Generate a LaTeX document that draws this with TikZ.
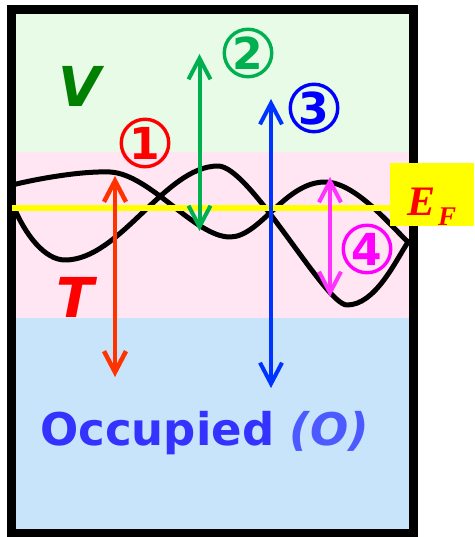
\documentclass[tikz,border=0pt]{standalone}
\usepackage{fontspec}
\setmainfont{DejaVu Sans}
\newfontfamily\tnr{Liberation Serif}
\usetikzlibrary{arrows.meta}
\definecolor{vfill}{RGB}{232,251,230}
\definecolor{tfill}{RGB}{255,230,242}
\definecolor{ofill}{RGB}{200,228,250}
\definecolor{aRed}{RGB}{255,51,0}
\definecolor{aGreen}{RGB}{0,176,80}
\definecolor{aBlue}{RGB}{0,51,255}
\definecolor{aMag}{RGB}{255,51,255}
\definecolor{lRed}{RGB}{255,0,0}
\definecolor{lGreen}{RGB}{0,176,80}
\definecolor{lBlue}{RGB}{0,0,255}
\definecolor{lMag}{RGB}{255,0,255}
\definecolor{vGreen}{RGB}{0,128,0}
\definecolor{occ}{RGB}{51,51,255}
\definecolor{occO}{RGB}{77,90,255}
\definecolor{efyel}{RGB}{255,255,0}
\begin{document}
\begin{tikzpicture}[x=1pt,y=-1pt,
  curve/.style={line width=5pt, black, line cap=round, line join=round},
  dblarrow/.style={line width=4pt, {Straight Barb[length=21pt,width=22pt]}-{Straight Barb[length=21pt,width=22pt]}},
  circnum/.style={circle, line width=3.4pt, minimum size=47.5pt, inner sep=0pt, font=\fontsize{44}{44}\selectfont\bfseries},
  biglab/.style={inner sep=0pt, anchor=base, font=\fontsize{55}{55}\selectfont\bfseries\itshape}]
\useasboundingbox (0,0) rectangle (474,537);
% regions
\fill[vfill] (16,14) rectangle (409,152);
\fill[tfill] (16,152) rectangle (409,318);
\fill[ofill] (16,318) rectangle (409,530);
% curves
\draw[curve] (12,185) .. controls (45,177) and (85,171) .. (110,172)
  .. controls (150,174) and (195,237) .. (230,237)
  .. controls (260,237) and (285,182) .. (325,182)
  .. controls (355,182) and (390,225) .. (408,242);
\draw[curve] (13,205) .. controls (25,235) and (45,260) .. (65,260)
  .. controls (120,260) and (165,166) .. (218,166)
  .. controls (250,166) and (325,305) .. (347,305)
  .. controls (375,305) and (395,262) .. (408,242);
% frame
\draw[line width=8.5pt] (11.5,9.5) rectangle (413.5,533.5);
% Fermi level line
\coordinate (efl) at (12,208);
\coordinate (efr) at (390,208);
\draw[efyel, line width=5.5pt] (efl) -- (efr);
% arrows
\coordinate (r1) at (115,176); \coordinate (r2) at (115,377);
\coordinate (g1) at (199.5,54); \coordinate (g2) at (199.5,231);
\coordinate (b1) at (271,99); \coordinate (b2) at (271,388);
\coordinate (m1) at (330,177); \coordinate (m2) at (330,297);
\draw[dblarrow, aRed, line width=4.5pt] (r1) -- (r2);
\draw[dblarrow, aGreen] (g1) -- (g2);
\draw[dblarrow, aBlue] (b1) -- (b2);
\draw[dblarrow, aMag] (m1) -- (m2);
% E_F box
\fill[efyel] (390,163) rectangle (474,226);
\node[inner sep=0pt, anchor=base west, text=lRed, font=\tnr\bfseries\itshape\fontsize{42}{42}\selectfont] (ef) at (407,215) {E};
\node[inner sep=0pt, anchor=base west, text=lRed, font=\tnr\bfseries\itshape\fontsize{27}{27}\selectfont] (ff) at (438,225) {F};
% circled numbers
\node[circnum, draw=lRed, text=lRed] (n1) at (145,143) {1};
\node[circnum, draw=lGreen, text=lGreen] (n2) at (248,53) {2};
\node[circnum, draw=lBlue, text=lBlue] (n3) at (314,108) {3};
\node[circnum, draw=lMag, text=lMag] (n4) at (367,249) {4};
% region labels
\node[biglab, text=vGreen] (V) at (80,107) {V};
\node[biglab, text=lRed] (T) at (75,317) {T};
\node[inner sep=0pt, anchor=base west, font=\fontsize{45}{45}\selectfont\bfseries] (O) at (40,445) {\textcolor{occ}{Occupied} \textcolor{occO}{\itshape(O)}};
\end{tikzpicture}
\end{document}
